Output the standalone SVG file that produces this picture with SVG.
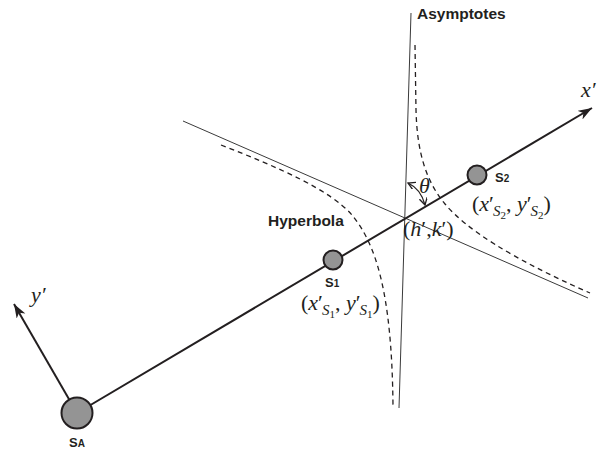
<svg xmlns="http://www.w3.org/2000/svg" width="609" height="450" viewBox="0 0 609 450">
<defs>
<style>
.lbl{font-family:"Liberation Sans",Arial,sans-serif;font-weight:bold;fill:#231f20}
.math{font-family:"Liberation Serif","Times New Roman",serif;fill:#231f20;font-size:22px}
.it{font-style:italic}
.sub{font-size:15px;font-style:italic}
.dig{font-size:11px}
.node{fill:#949494;stroke:#231f20;stroke-width:2}
.axis{stroke:#231f20;stroke-width:2;fill:none}
.asym{stroke:#3a3a3a;stroke-width:1;fill:none}
.hyp{stroke:#231f20;stroke-width:1.3;fill:none;stroke-dasharray:5 4}
</style>
<marker id="ah" markerUnits="userSpaceOnUse" markerWidth="16" markerHeight="12" refX="14" refY="5" orient="auto">
<path d="M0,0 L14,5 L0,10 L4,5 z" fill="#231f20"/>
</marker>
<marker id="ch" markerUnits="userSpaceOnUse" markerWidth="10" markerHeight="10" refX="7" refY="4" orient="auto-start-reverse">
<path d="M0,0 L7,4 L0,8" fill="none" stroke="#231f20" stroke-width="1.3"/>
</marker>
</defs>
<g id="connectors">
<line class="asym" x1="411" y1="13" x2="399" y2="408"/>
<line class="asym" x1="183" y1="121" x2="588" y2="298"/>
<path class="hyp" d="M221,145 C280,168 330,190 352,215 C375,243 392,290 393,407"/>
<path class="hyp" d="M415,45 L416,110 C417,150 425,180 445,204 C465,228 510,258 590,293"/>
<line class="axis" x1="77" y1="413" x2="592" y2="108" marker-end="url(#ah)"/>
<line class="axis" x1="77" y1="413" x2="14" y2="304" marker-end="url(#ah)"/>
<path d="M408,183 Q421,189 425,205" fill="none" stroke="#231f20" stroke-width="1.3" marker-start="url(#ch)" marker-end="url(#ch)"/>
</g>
<g id="SA">
<circle class="node" cx="77" cy="413" r="15.5"/>
<text class="lbl" x="69" y="447" font-size="13">S<tspan font-size="10">A</tspan></text>
</g>
<g id="S1">
<circle class="node" cx="333" cy="260" r="9.5"/>
<text class="lbl" x="325" y="287" font-size="13">S<tspan font-size="10">1</tspan></text>
<text class="math" x="301" y="310">(<tspan class="it">x</tspan>′<tspan class="sub" dx="-1" dy="5">S</tspan><tspan class="dig" dy="3">1</tspan><tspan dy="-8">, </tspan><tspan class="it">y</tspan>′<tspan class="sub" dx="-1" dy="5">S</tspan><tspan class="dig" dy="3">1</tspan><tspan dy="-8">)</tspan></text>
</g>
<g id="S2">
<circle class="node" cx="477" cy="175" r="9.5"/>
<text class="lbl" x="495" y="182" font-size="13">S<tspan font-size="10">2</tspan></text>
<text class="math" x="472" y="211">(<tspan class="it">x</tspan>′<tspan class="sub" dx="-1" dy="5">S</tspan><tspan class="dig" dy="3">2</tspan><tspan dy="-8">, </tspan><tspan class="it">y</tspan>′<tspan class="sub" dx="-1" dy="5">S</tspan><tspan class="dig" dy="3">2</tspan><tspan dy="-8">)</tspan></text>
</g>
<g id="center">
<text class="math" x="403" y="236">(<tspan class="it">h</tspan>′,<tspan class="it">k</tspan>′)</text>
<text class="math it" x="419" y="193" font-size="18">θ</text>
</g>
<g id="labels">
<text class="lbl" x="417" y="19" font-size="15.5">Asymptotes</text>
<text class="lbl" x="268" y="226" font-size="15.5">Hyperbola</text>
<text class="math it" x="581" y="97" font-size="22">x′</text>
<text class="math it" x="31" y="302" font-size="22">y′</text>
</g>
</svg>
